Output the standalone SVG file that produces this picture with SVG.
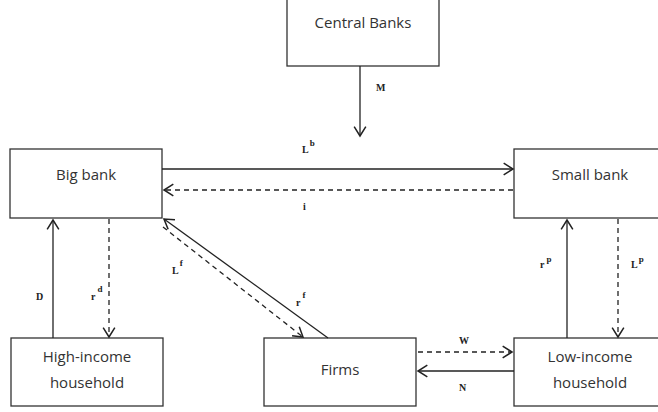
<svg xmlns="http://www.w3.org/2000/svg" width="658" height="412" viewBox="0 0 658 412">
<style>
.box{fill:#fff;stroke:#333;stroke-width:1.3}
.nt{font-family:"Open Sans","Liberation Sans",sans-serif;font-size:15px;fill:#333;text-anchor:middle}
.ln{fill:none;stroke:#222;stroke-width:1.3}
.ds{stroke-dasharray:5,4}
.lb{font-family:"Liberation Serif",serif;font-size:10px;font-weight:bold;fill:#222}
.sp{font-size:9px}
</style>
<defs>
<marker id="ah" markerUnits="userSpaceOnUse" markerWidth="14" markerHeight="14" refX="9" refY="6" orient="auto" viewBox="0 0 12 12">
<path d="M1,1 L9,6 L1,11" fill="none" stroke="#222" stroke-width="1.3"/>
</marker>
</defs>
<g id="central-banks"><rect class="box" x="287" y="-2" width="152" height="68"/><text class="nt" x="363" y="28">Central Banks</text></g>
<g id="big-bank"><rect class="box" x="10" y="149" width="152" height="69"/><text class="nt" x="86" y="180">Big bank</text></g>
<g id="small-bank"><rect class="box" x="514" y="149" width="152" height="69"/><text class="nt" x="590" y="180">Small bank</text></g>
<g id="high-income"><rect class="box" x="11" y="338" width="152" height="68"/><text class="nt" x="87" y="362">High-income</text><text class="nt" x="87" y="388">household</text></g>
<g id="firms"><rect class="box" x="264" y="338" width="152" height="68"/><text class="nt" x="340" y="375">Firms</text></g>
<g id="low-income"><rect class="box" x="514" y="338" width="152" height="68"/><text class="nt" x="590" y="362">Low-income</text><text class="nt" x="590" y="388">household</text></g>
<g id="connectors">
<line class="ln" x1="360" y1="66" x2="360" y2="136" marker-end="url(#ah)"/>
<line class="ln" x1="162" y1="169" x2="513" y2="169" marker-end="url(#ah)"/>
<line class="ln ds" x1="513" y1="190" x2="164" y2="190" marker-end="url(#ah)"/>
<line class="ln" x1="53" y1="338" x2="53" y2="220" marker-end="url(#ah)"/>
<line class="ln ds" x1="109" y1="219" x2="109" y2="337" marker-end="url(#ah)"/>
<line class="ln ds" x1="163" y1="227" x2="303" y2="337" marker-end="url(#ah)"/>
<line class="ln" x1="328" y1="338" x2="164" y2="219" marker-end="url(#ah)"/>
<line class="ln ds" x1="418" y1="352" x2="512" y2="352" marker-end="url(#ah)"/>
<line class="ln" x1="514" y1="371" x2="418" y2="371" marker-end="url(#ah)"/>
<line class="ln" x1="567" y1="338" x2="567" y2="220" marker-end="url(#ah)"/>
<line class="ln ds" x1="618" y1="219" x2="618" y2="337" marker-end="url(#ah)"/>
</g>
<g id="labels">
<text class="lb" x="376" y="91">M</text>
<text class="lb" x="302" y="153">L<tspan class="sp" dx="1" dy="-7">b</tspan></text>
<text class="lb" x="303" y="210">i</text>
<text class="lb" x="36" y="300">D</text>
<text class="lb" x="91" y="300">r<tspan class="sp" dx="2" dy="-8">d</tspan></text>
<text class="lb" x="172" y="274">L<tspan class="sp" dx="1" dy="-8">f</tspan></text>
<text class="lb" x="296" y="306">r<tspan class="sp" dx="2" dy="-8">f</tspan></text>
<text class="lb" x="540" y="268">r<tspan class="sp" dx="2" dy="-6">p</tspan></text>
<text class="lb" x="631" y="268">L<tspan class="sp" dx="1" dy="-6">p</tspan></text>
<text class="lb" x="459" y="344">W</text>
<text class="lb" x="459" y="391">N</text>
</g>
</svg>
